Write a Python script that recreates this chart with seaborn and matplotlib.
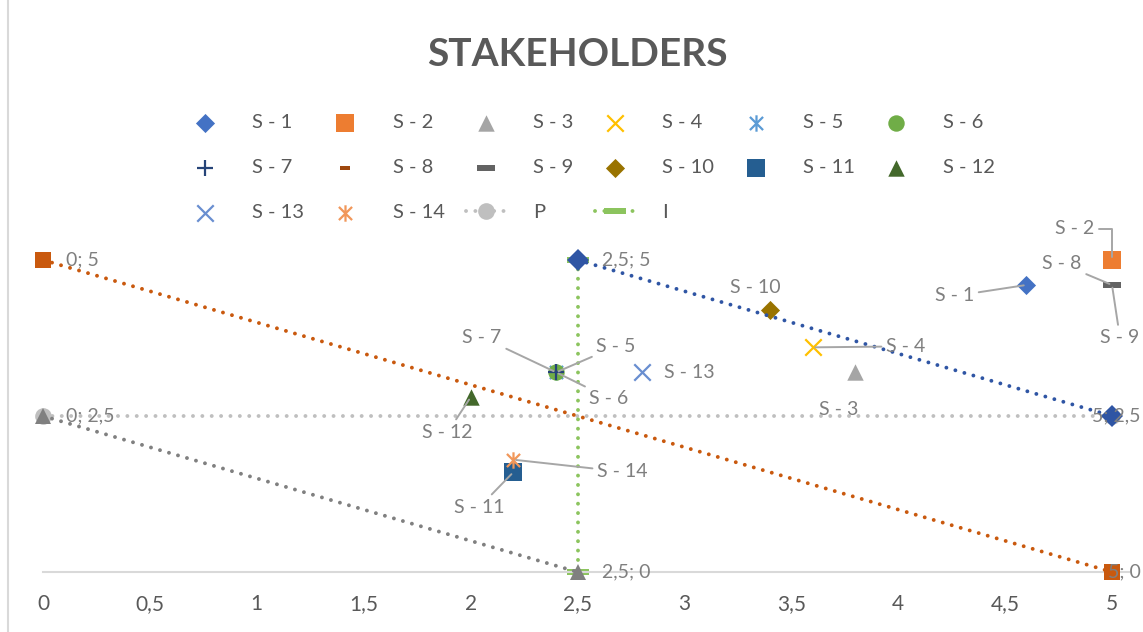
import seaborn as sns
import matplotlib.pyplot as plt
from matplotlib.path import Path
from matplotlib.lines import Line2D

# stakeholder points
names = ["S - 1", "S - 2", "S - 3", "S - 4", "S - 5", "S - 6", "S - 7",
         "S - 8", "S - 9", "S - 10", "S - 11", "S - 12", "S - 13", "S - 14"]
s_x = [4.6, 5.0, 3.8, 3.6, 2.4, 2.4, 2.4, 5.0, 5.0, 3.4, 2.2, 2.0, 2.8, 2.2]
s_y = [4.6, 5.0, 3.2, 3.6, 3.2, 3.2, 3.2, 4.6, 4.6, 4.2, 1.6, 2.8, 3.2, 1.8]

# reference lines
p_x = [0, 5]
p_y = [2.5, 2.5]
i_x = [2.5, 2.5]
i_y = [5, 0]
orange_x = [0, 5]
orange_y = [5, 0]
blue_x = [2.5, 5]
blue_y = [5, 2.5]
grey_x = [0, 2.5]
grey_y = [2.5, 0]

x_ticks = [0, 0.5, 1, 1.5, 2, 2.5, 3, 3.5, 4, 4.5, 5]
x_tick_labels = ["0", "0,5", "1", "1,5", "2", "2,5", "3", "3,5", "4", "4,5", "5"]

sns.set_style("white")
plt.rcParams['font.family'] = ['Lato', 'DejaVu Sans']

star = Path([(-1, -1), (1, 1), (-1, 1), (1, -1), (0, -1.25), (0, 1.25)],
            [Path.MOVETO, Path.LINETO, Path.MOVETO, Path.LINETO, Path.MOVETO, Path.LINETO])
dash = Path([(-1, -0.28), (1, -0.28), (1, 0.28), (-1, 0.28), (-1, -0.28)])
small_dash = Path([(-1, -0.45), (1, -0.45), (1, 0.45), (-1, 0.45), (-1, -0.45)])

colors = ["#4472C4", "#ED7D31", "#A5A5A5", "#FFC000", "#5B9BD5", "#70AD47", "#264478",
          "#9E480E", "#636363", "#997300", "#255E91", "#43682B", "#698ED0", "#F1975A"]
markers = ["D", "s", "^", "x", star, "o", "+", small_dash, dash, "D", "s", "^", "x", star]
sizes = [95, 160, 140, 140, 140, 140, 140, 50, 170, 95, 160, 140, 140, 140]

fig = plt.figure(figsize=(11.43, 6.32), dpi=100)
ax = fig.add_axes([43 / 1143, 60 / 632, 5.08 * 213.8 / 1143, 5.3 * 62.4 / 632])

dots = (0, (0.01, 2.4))

sns.lineplot(x=p_x, y=p_y, ax=ax, color="#BFBFBF", lw=2.8, linestyle=dots,
             dash_capstyle="round", marker="o", markersize=12, markeredgewidth=0,
             sort=False, estimator=None, clip_on=False, label="P")
sns.lineplot(x=i_x, y=i_y, ax=ax, color="#8CC45E", lw=2.8, linestyle=dots,
             dash_capstyle="round", marker=dash, markersize=16, markeredgewidth=0,
             sort=False, estimator=None, clip_on=False, label="I")

for i in range(len(names)):
    lw = 1.6 if i in (3, 4, 6, 12, 13) else 0
    sns.scatterplot(x=[s_x[i]], y=[s_y[i]], ax=ax, marker=markers[i], s=sizes[i],
                    color=colors[i], edgecolor=colors[i], linewidth=lw,
                    clip_on=False, label=names[i], zorder=4)

sns.lineplot(x=orange_x, y=orange_y, ax=ax, color="#C9590E", lw=2.8, linestyle=dots,
             dash_capstyle="round", marker="s", markersize=12, markeredgewidth=0,
             sort=False, estimator=None, clip_on=False, zorder=5)
sns.lineplot(x=blue_x, y=blue_y, ax=ax, color="#2F55A4", lw=2.8, linestyle=dots,
             dash_capstyle="round", marker="D", markersize=11, markeredgewidth=0,
             sort=False, estimator=None, clip_on=False, zorder=5)
sns.lineplot(x=grey_x, y=grey_y, ax=ax, color="#808080", lw=2.8, linestyle=dots,
             dash_capstyle="round", marker="^", markersize=12, markeredgewidth=0,
             sort=False, estimator=None, clip_on=False, zorder=5)

ax.set_xlim(0, 5.08)
ax.set_ylim(0, 5.3)
ax.set_xticks(x_ticks)
ax.set_xticklabels(x_tick_labels)
ax.set_yticks([])
ax.tick_params(axis="x", length=0, pad=16, labelsize=15, labelcolor="#595959")
for side in ["left", "right", "top"]:
    ax.spines[side].set_visible(False)
ax.spines["bottom"].set_color("#D9D9D9")
ax.spines["bottom"].set_linewidth(1.5)
ax.set_xlabel("")
ax.set_ylabel("")

# data labels for the stakeholders (offset in pixels, leader line style)
label_offsets = {
    "S - 1": (-72, -11, "arc3"), "S - 2": (-37, 31, "angle,angleA=0,angleB=90,rad=0"),
    "S - 3": (-17, -37, None), "S - 4": (93, 1, "arc3"), "S - 5": (60, 26, "arc3"),
    "S - 6": (53, -26, "arc3"), "S - 7": (-74, 35, "arc3"), "S - 8": (-50, 21, "arc3"),
    "S - 9": (8, -53, "arc3"), "S - 10": (-15, 22, None), "S - 11": (-34, -35, "arc3"),
    "S - 12": (-23, -35, "arc3"), "S - 13": (48, 0, None), "S - 14": (109, -12, "arc3"),
}
for i, name in enumerate(names):
    dx, dy, conn = label_offsets[name]
    props = None
    if conn:
        props = dict(arrowstyle="-", color="#A6A6A6", lw=1.4, shrinkA=1, shrinkB=2,
                     connectionstyle=conn)
    ax.annotate(name, (s_x[i], s_y[i]), xytext=(dx, dy), textcoords="offset pixels",
                ha="center", va="center", fontsize=14, color="#7F7F7F",
                arrowprops=props, annotation_clip=False, zorder=6)

# coordinate labels on the line ends
end_labels = [
    (orange_x[0], orange_y[0], "0; 5", 23), (orange_x[1], orange_y[1], "5; 0", -4),
    (blue_x[0], blue_y[0], "2,5; 5", 25), (blue_x[1], blue_y[1], "5; 2,5", -20),
    (grey_x[0], grey_y[0], "0; 2,5", 23), (grey_x[1], grey_y[1], "2,5; 0", 25),
]
for x, y, txt, dx in end_labels:
    ax.annotate(txt, (x, y), xytext=(dx, 0), textcoords="offset pixels",
                ha="left", va="center", fontsize=14, color="#7F7F7F",
                annotation_clip=False, zorder=6)

handles, labels = ax.get_legend_handles_labels()
lookup = dict(zip(labels, handles))
ax.get_legend().remove()
order = ["S - 1", "S - 7", "S - 13", "S - 2", "S - 8", "S - 14", "S - 3", "S - 9", "P",
         "S - 4", "S - 10", "I", "S - 5", "S - 11", "S - 6", "S - 12"]
fig.legend([lookup[k] for k in order], order, loc="upper center",
           bbox_to_anchor=(590 / 1143, 1 - 96 / 632), ncol=6, frameon=False,
           fontsize=14.5, labelcolor="#595959", handlelength=2.0, handletextpad=1.35,
           columnspacing=1.05, labelspacing=1.38)

fig.text(577 / 1143, 1 - 55 / 632, "STAKEHOLDERS", ha="center", va="center",
         fontsize=28, fontweight="bold", color="#595959")
fig.add_artist(Line2D([7.5 / 1143, 7.5 / 1143], [0, 1], color="#D9D9D9", lw=1.5))

fig.savefig("out.png", dpi=100)
